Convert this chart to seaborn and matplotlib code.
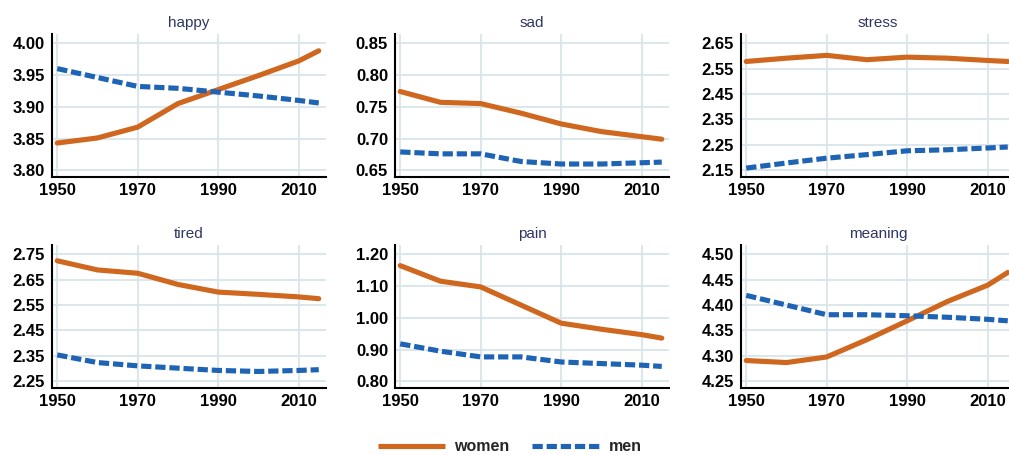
import numpy as np
import pandas as pd
import matplotlib
matplotlib.use("Agg")
import matplotlib.pyplot as plt
import seaborn as sns
from matplotlib.lines import Line2D

# Survey years (decade points plus the latest wave)
years = [1950, 1960, 1970, 1980, 1990, 2000, 2010, 2015]

happy_women = [3.843, 3.851, 3.868, 3.905, 3.927, 3.949, 3.972, 3.988]
happy_men = [3.960, 3.946, 3.932, 3.929, 3.923, 3.917, 3.910, 3.906]

sad_women = [0.774, 0.757, 0.755, 0.740, 0.723, 0.711, 0.703, 0.699]
sad_men = [0.679, 0.676, 0.676, 0.664, 0.660, 0.660, 0.662, 0.663]

stress_women = [2.578, 2.591, 2.602, 2.585, 2.595, 2.591, 2.582, 2.578]
stress_men = [2.159, 2.179, 2.198, 2.212, 2.227, 2.231, 2.238, 2.242]

tired_women = [2.724, 2.688, 2.675, 2.631, 2.601, 2.592, 2.582, 2.575]
tired_men = [2.354, 2.324, 2.311, 2.302, 2.293, 2.289, 2.293, 2.296]

pain_women = [1.164, 1.115, 1.097, 1.040, 0.983, 0.964, 0.947, 0.936]
pain_men = [0.918, 0.895, 0.877, 0.877, 0.861, 0.856, 0.851, 0.847]

meaning_women = [4.291, 4.287, 4.298, 4.332, 4.369, 4.407, 4.439, 4.464]
meaning_men = [4.419, 4.400, 4.381, 4.381, 4.379, 4.376, 4.372, 4.369]

panel_titles = ["happy", "sad", "stress", "tired", "pain", "meaning"]
panel_women = [happy_women, sad_women, stress_women, tired_women, pain_women, meaning_women]
panel_men = [happy_men, sad_men, stress_men, tired_men, pain_men, meaning_men]

# y tick sets for each panel
happy_ticks = [3.80, 3.85, 3.90, 3.95, 4.00]
sad_ticks = [0.65, 0.70, 0.75, 0.80, 0.85]
stress_ticks = [2.15, 2.25, 2.35, 2.45, 2.55, 2.65]
tired_ticks = [2.25, 2.35, 2.45, 2.55, 2.65, 2.75]
pain_ticks = [0.80, 0.90, 1.00, 1.10, 1.20]
meaning_ticks = [4.25, 4.30, 4.35, 4.40, 4.45, 4.50]
panel_ticks = [happy_ticks, sad_ticks, stress_ticks, tired_ticks, pain_ticks, meaning_ticks]

x_ticks = [1950, 1970, 1990, 2010]
series_names = ["women", "men"]

sns.set_theme(style="white")
plt.rcParams["font.family"] = ["Liberation Sans", "DejaVu Sans"]

W, H = 1009, 455
fig = plt.figure(figsize=(W / 100, H / 100), dpi=100)

orange = "#d0671f"
blue = "#1f63b5"
grid_c = "#d9e5ea"
palette = {"women": orange, "men": blue}
dashes = {"women": "", "men": (2.0, 0.75)}

col_left = [52, 395, 741]
row_bottom = [177, 388]
ax_w, ax_h = 274, 143

for i, title in enumerate(panel_titles):
    r, c = divmod(i, 3)
    ax = fig.add_axes([col_left[c] / W, 1 - row_bottom[r] / H, ax_w / W, ax_h / H])
    df = pd.DataFrame({
        "year": years * 2,
        "value": panel_women[i] + panel_men[i],
        "sex": [series_names[0]] * len(years) + [series_names[1]] * len(years),
    })
    sns.lineplot(data=df, x="year", y="value", hue="sex", style="sex",
                 palette=palette, dashes=dashes, linewidth=3.7, ax=ax,
                 legend=False, zorder=3)
    ticks = panel_ticks[i]
    lo, hi = ticks[0], ticks[-1]
    rng = hi - lo
    ax.set_ylim(lo - 0.052 * rng, hi + 0.072 * rng)
    ax.set_xlim(1948.7, 2016.8)
    ax.set_yticks(ticks)
    ax.set_yticklabels([f"{t:.2f}" for t in ticks])
    ax.set_xticks(x_ticks)
    ax.set_xticklabels([str(t) for t in x_ticks])
    ax.grid(True, color=grid_c, linewidth=1.3, zorder=0)
    ax.set_axisbelow(True)
    for s in ["top", "right"]:
        ax.spines[s].set_visible(False)
    for s in ["left", "bottom"]:
        ax.spines[s].set_color("black")
        ax.spines[s].set_linewidth(1.5)
    ax.tick_params(axis="y", length=4, width=1.2, color="black", pad=1,
                   labelsize=12, labelcolor="black")
    ax.tick_params(axis="x", length=0, pad=4, labelsize=12, labelcolor="black")
    for lab in ax.get_xticklabels() + ax.get_yticklabels():
        lab.set_fontweight("bold")
    ax.set_xlabel("")
    ax.set_ylabel("")
    ax.set_title(title, fontsize=11, color="#2e3763", pad=5)

# shared legend at the bottom
handles = [
    Line2D([0], [0], color=orange, lw=3.7, solid_capstyle="butt"),
    Line2D([0], [0], color=blue, lw=3.7, dashes=(2.0, 0.75)),
]
leg = fig.legend(handles, series_names, loc="center", bbox_to_anchor=(0.505, 0.018),
                 ncol=2, frameon=False, handlelength=4.2, columnspacing=1.4,
                 handletextpad=0.6, prop={"size": 11.5, "weight": "bold"})

fig.savefig("out.png", dpi=100)
